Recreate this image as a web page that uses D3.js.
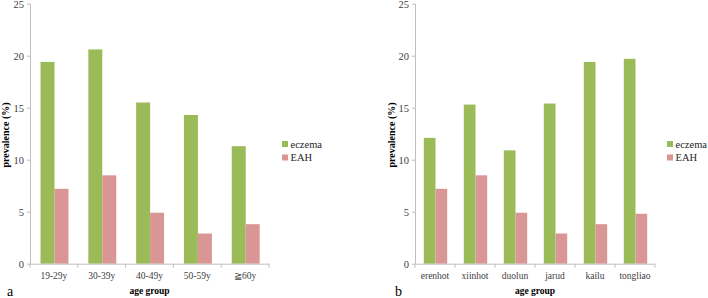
<!DOCTYPE html>
<html>
<head>
<meta charset="utf-8">
<script src="https://cdn.jsdelivr.net/npm/d3@7"></script>
<style>
  body { margin: 0; background: #fff; }
  svg { display: block; font-family: "Liberation Serif", "Times New Roman", serif; }
</style>
</head>
<body>
<div id="chart"></div>
<script>
// data
var seriesNames = ["eczema", "EAH"];
var ageGroups = ["19-29y", "30-39y", "40-49y", "50-59y", "\u226760y"];
var ageEczema = [19.4, 20.6, 15.5, 14.3, 11.3];
var ageEAH = [7.2, 8.5, 4.9, 2.9, 3.8];
var regions = ["erenhot", "xiinhot", "duolun", "jarud", "kailu", "tongliao"];
var regionEczema = [12.1, 15.3, 10.9, 15.4, 19.4, 19.7];
var regionEAH = [7.2, 8.5, 4.9, 2.9, 3.8, 4.8];
var yTicks = [0, 5, 10, 15, 20, 25];

var width = 708, height = 298;
var axisColor = "#bfbfbf";

var colors = d3.scaleOrdinal()
    .domain(seriesNames)
    .range(["#9bbb59", "#d99694"]);

var svg = d3.select("#chart")
    .append("svg")
    .attr("width", width)
    .attr("height", height);

function drawPanel(opts) {
    var cats = opts.cats;
    var rows = cats.map((c, i) => ({ cat: c, eczema: opts.eczema[i], EAH: opts.eah[i] }));

    var x0 = d3.scaleBand()
        .domain(cats)
        .range([opts.left, opts.right])
        .padding(0);
    var bw = x0.bandwidth();
    var x1 = d3.scaleBand()
        .domain(seriesNames)
        .range([bw * 0.22, bw * 0.805])
        .padding(0);
    var y = d3.scaleLinear()
        .domain([0, 25])
        .range([263.7, 3.7]);

    var g = svg.append("g");

    // bars
    g.append("g")
        .selectAll("g")
        .data(rows)
        .join("g")
          .attr("transform", d => `translate(${x0(d.cat)},0)`)
        .selectAll("rect")
        .data(d => seriesNames.map(k => ({ key: k, value: d[k] })))
        .join("rect")
          .attr("x", d => x1(d.key))
          .attr("y", d => y(d.value))
          .attr("width", x1.bandwidth())
          .attr("height", d => y(0) - y(d.value))
          .attr("fill", d => colors(d.key));

    // y axis
    var yAxis = g.append("g")
        .attr("transform", `translate(${opts.left},0)`)
        .call(d3.axisLeft(y).tickValues(yTicks).tickSize(3).tickPadding(3));
    yAxis.selectAll("text")
        .style("font-family", "Liberation Serif")
        .style("font-size", "10.5px")
        .attr("fill", "#404040");

    // x axis: labels centred, tick marks at the band edges
    var xAxis = g.append("g")
        .attr("transform", `translate(0,${y(0)})`)
        .call(d3.axisBottom(x0).tickSize(0).tickPadding(9));
    xAxis.selectAll("text")
        .style("font-family", "Liberation Serif")
        .style("font-size", "9.5px")
        .attr("fill", "#404040");
    var edges = cats.map(c => x0(c)).concat([opts.right]);
    xAxis.selectAll("line.edge")
        .data(edges)
        .join("line")
          .attr("class", "edge")
          .attr("x1", d => d).attr("x2", d => d)
          .attr("y1", 0).attr("y2", 4);

    [yAxis, xAxis].forEach(a => {
        a.selectAll(".domain, line").attr("stroke", axisColor);
    });
    xAxis.select(".domain").attr("d", `M${opts.left},0.5H${opts.right}`);
    yAxis.select(".domain").attr("d", `M0.5,${y(25)}V${y(0)}`);

    // axis titles
    g.append("text")
        .attr("transform", `translate(${opts.ytitleX},${135}) rotate(-90)`)
        .attr("text-anchor", "middle")
        .attr("dominant-baseline", "central")
        .attr("font-weight", "bold")
        .attr("font-size", 10)
        .text("prevalence (%)");
    g.append("text")
        .attr("x", (opts.left + opts.right) / 2)
        .attr("y", 294)
        .attr("text-anchor", "middle")
        .attr("font-weight", "bold")
        .attr("font-size", 9.5)
        .text("age group");

    // panel letter
    g.append("text")
        .attr("x", opts.letterX)
        .attr("y", 296)
        .attr("font-size", 14)
        .text(opts.letter);

    // legend
    var leg = g.append("g")
        .selectAll("g")
        .data(seriesNames)
        .join("g")
          .attr("transform", (d, i) => `translate(${opts.legendX},${141 + i * 13.5})`);
    leg.append("rect")
        .attr("width", 6)
        .attr("height", 6)
        .attr("fill", d => colors(d));
    leg.append("text")
        .attr("x", 8.5)
        .attr("y", 3)
        .attr("dominant-baseline", "central")
        .attr("font-size", 10.5)
        .attr("fill", "#262626")
        .text(d => d);
}

drawPanel({
    cats: ageGroups, eczema: ageEczema, eah: ageEAH,
    left: 30, right: 269, ytitleX: 5, legendX: 282, letter: "a", letterX: 7
});
drawPanel({
    cats: regions, eczema: regionEczema, eah: regionEAH,
    left: 415, right: 655, ytitleX: 391, legendX: 667, letter: "b", letterX: 395
});
</script>
</body>
</html>
